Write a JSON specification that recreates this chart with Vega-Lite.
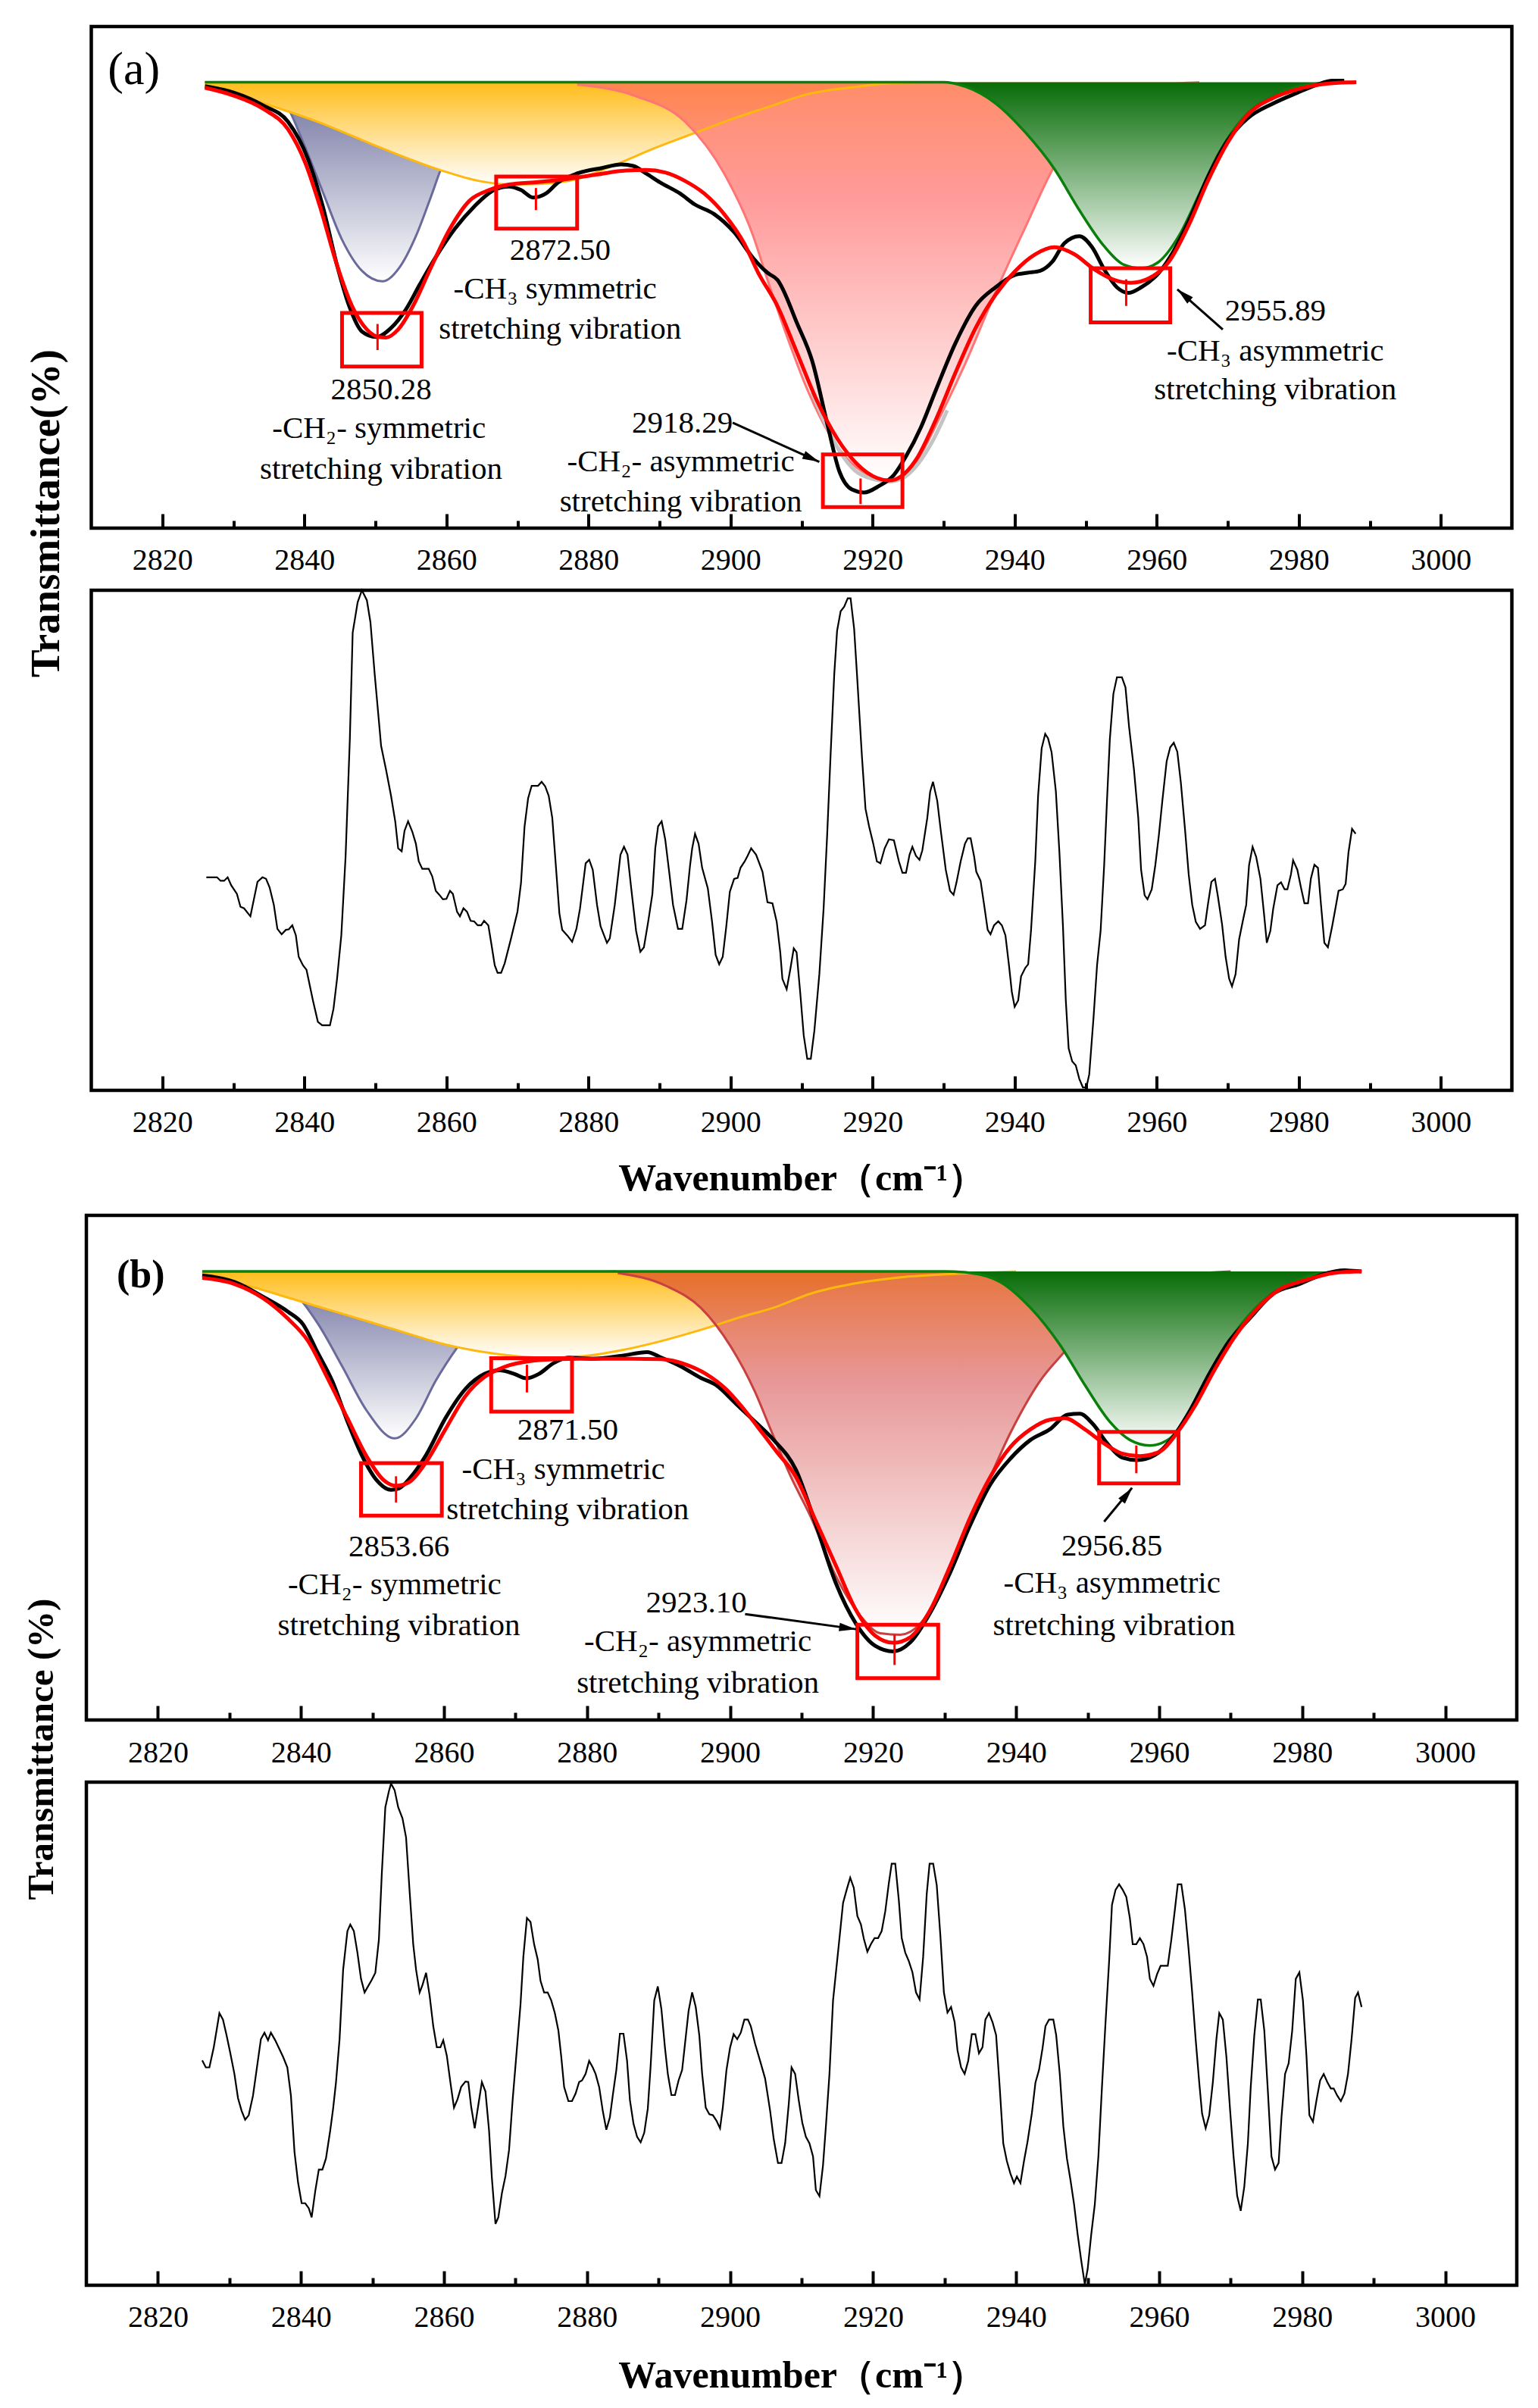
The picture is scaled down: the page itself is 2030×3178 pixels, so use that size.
{
  "$schema": "https://vega.github.io/schema/vega-lite/v6.json",
  "description": "Curve-fitted FTIR C-H stretching region (a) and (b) with second derivative spectra",
  "background": "white",
  "padding": {"left": 27, "top": 32, "right": 5, "bottom": 5},
  "datasets": {
    "fa": [
      {"s":"blk","x":2826.0,"y":88.1},{"s":"blk","x":2830.1,"y":86.8},{"s":"blk","x":2834.3,"y":84.2},{"s":"blk","x":2837.7,"y":81.0},{"s":"blk","x":2840.5,"y":73.6},{"s":"blk","x":2842.6,"y":64.1},{"s":"blk","x":2844.6,"y":52.4},{"s":"blk","x":2846.3,"y":44.3},{"s":"blk","x":2848.1,"y":39.2},{"s":"blk","x":2850.1,"y":38.1},{"s":"blk","x":2852.2,"y":39.9},{"s":"blk","x":2854.3,"y":43.6},{"s":"blk","x":2856.3,"y":48.7},{"s":"blk","x":2858.4,"y":53.8},{"s":"blk","x":2861.2,"y":59.7},{"s":"blk","x":2863.9,"y":64.1},{"s":"blk","x":2866.7,"y":67.4},{"s":"blk","x":2868.8,"y":68.1},{"s":"blk","x":2870.5,"y":67.4},{"s":"blk","x":2872.2,"y":65.9},{"s":"blk","x":2874.0,"y":66.7},{"s":"blk","x":2875.7,"y":68.9},{"s":"blk","x":2878.4,"y":70.7},{"s":"blk","x":2881.9,"y":71.8},{"s":"blk","x":2884.6,"y":72.5},{"s":"blk","x":2886.3,"y":72.2},{"s":"blk","x":2888.1,"y":70.7},{"s":"blk","x":2890.1,"y":68.9},{"s":"blk","x":2892.9,"y":66.7},{"s":"blk","x":2895.0,"y":64.5},{"s":"blk","x":2897.7,"y":62.6},{"s":"blk","x":2900.5,"y":59.0},{"s":"blk","x":2903.2,"y":53.8},{"s":"blk","x":2905.2,"y":50.9},{"s":"blk","x":2906.6,"y":49.5},{"s":"blk","x":2909.4,"y":40.7},{"s":"blk","x":2911.5,"y":33.3},{"s":"blk","x":2913.6,"y":20.9},{"s":"blk","x":2915.3,"y":11.4},{"s":"blk","x":2917.1,"y":7.7},{"s":"blk","x":2918.8,"y":7.1},{"s":"blk","x":2920.9,"y":8.4},{"s":"blk","x":2923.0,"y":10.6},{"s":"blk","x":2924.7,"y":14.3},{"s":"blk","x":2926.8,"y":20.1},{"s":"blk","x":2928.9,"y":27.5},{"s":"blk","x":2931.7,"y":37.0},{"s":"blk","x":2934.5,"y":44.3},{"s":"blk","x":2937.3,"y":48.0},{"s":"blk","x":2940.1,"y":50.5},{"s":"blk","x":2941.8,"y":50.9},{"s":"blk","x":2943.6,"y":51.3},{"s":"blk","x":2945.3,"y":53.1},{"s":"blk","x":2947.0,"y":56.8},{"s":"blk","x":2949.1,"y":58.2},{"s":"blk","x":2950.9,"y":56.0},{"s":"blk","x":2952.6,"y":51.6},{"s":"blk","x":2954.4,"y":48.0},{"s":"blk","x":2956.0,"y":46.9},{"s":"blk","x":2957.8,"y":48.0},{"s":"blk","x":2960.3,"y":50.9},{"s":"blk","x":2962.4,"y":55.3},{"s":"blk","x":2964.5,"y":61.2},{"s":"blk","x":2967.2,"y":70.0},{"s":"blk","x":2970.0,"y":77.3},{"s":"blk","x":2972.8,"y":81.7},{"s":"blk","x":2976.3,"y":84.6},{"s":"blk","x":2979.8,"y":86.8},{"s":"blk","x":2982.6,"y":88.4},{"s":"blk","x":2984.7,"y":89.2},{"s":"blk","x":2986.4,"y":89.2},
      {"s":"red","x":2826.0,"y":87.8},{"s":"red","x":2830.1,"y":86.2},{"s":"red","x":2834.3,"y":83.5},{"s":"red","x":2837.7,"y":79.5},{"s":"red","x":2840.1,"y":72.9},{"s":"red","x":2842.2,"y":64.1},{"s":"red","x":2844.6,"y":52.4},{"s":"red","x":2846.7,"y":44.3},{"s":"red","x":2848.8,"y":39.6},{"s":"red","x":2850.5,"y":38.1},{"s":"red","x":2851.5,"y":38.0},{"s":"red","x":2853.2,"y":39.6},{"s":"red","x":2855.3,"y":44.3},{"s":"red","x":2857.7,"y":51.6},{"s":"red","x":2860.5,"y":59.7},{"s":"red","x":2863.2,"y":65.2},{"s":"red","x":2866.0,"y":67.4},{"s":"red","x":2868.8,"y":68.5},{"s":"red","x":2872.9,"y":69.0},{"s":"red","x":2877.0,"y":69.6},{"s":"red","x":2881.2,"y":70.5},{"s":"red","x":2885.3,"y":71.3},{"s":"red","x":2888.1,"y":71.4},{"s":"red","x":2890.8,"y":70.9},{"s":"red","x":2893.6,"y":69.2},{"s":"red","x":2896.3,"y":66.7},{"s":"red","x":2899.1,"y":62.6},{"s":"red","x":2901.9,"y":56.8},{"s":"red","x":2903.9,"y":50.9},{"s":"red","x":2906.6,"y":44.3},{"s":"red","x":2909.4,"y":34.8},{"s":"red","x":2912.2,"y":25.3},{"s":"red","x":2915.0,"y":17.9},{"s":"red","x":2917.8,"y":12.8},{"s":"red","x":2920.6,"y":10.0},{"s":"red","x":2922.3,"y":9.5},{"s":"red","x":2924.0,"y":10.3},{"s":"red","x":2926.1,"y":13.6},{"s":"red","x":2928.9,"y":21.6},{"s":"red","x":2931.7,"y":31.1},{"s":"red","x":2934.5,"y":39.9},{"s":"red","x":2937.3,"y":46.5},{"s":"red","x":2940.1,"y":51.3},{"s":"red","x":2942.9,"y":54.6},{"s":"red","x":2945.6,"y":56.0},{"s":"red","x":2948.4,"y":54.6},{"s":"red","x":2951.2,"y":51.6},{"s":"red","x":2954.0,"y":49.5},{"s":"red","x":2956.4,"y":48.9},{"s":"red","x":2958.9,"y":49.8},{"s":"red","x":2961.7,"y":53.1},{"s":"red","x":2964.5,"y":60.4},{"s":"red","x":2967.2,"y":69.2},{"s":"red","x":2970.0,"y":76.9},{"s":"red","x":2972.8,"y":82.4},{"s":"red","x":2976.3,"y":85.7},{"s":"red","x":2979.8,"y":87.5},{"s":"red","x":2983.9,"y":88.6},{"s":"red","x":2988.1,"y":88.9},
      {"s":"blue","x":2826.0,"y":88.9},{"s":"blue","x":2830.1,"y":88.7},{"s":"blue","x":2834.3,"y":87.6},{"s":"blue","x":2837.4,"y":84.5},{"s":"blue","x":2839.8,"y":77.0},{"s":"blue","x":2842.6,"y":67.0},{"s":"blue","x":2845.3,"y":57.5},{"s":"blue","x":2848.1,"y":51.3},{"s":"blue","x":2851.0,"y":49.2},{"s":"blue","x":2853.6,"y":52.4},{"s":"blue","x":2855.7,"y":58.2},{"s":"blue","x":2857.7,"y":65.6},{"s":"blue","x":2859.4,"y":72.2},{"s":"blue","x":2861.2,"y":77.3},{"s":"blue","x":2863.2,"y":81.7},{"s":"blue","x":2866.0,"y":85.3},{"s":"blue","x":2869.4,"y":87.5},{"s":"blue","x":2872.9,"y":88.4},{"s":"blue","x":2878.0,"y":88.9},
      {"s":"yel","x":2826.0,"y":88.4},{"s":"yel","x":2832.9,"y":85.3},{"s":"yel","x":2841.9,"y":81.0},{"s":"yel","x":2850.8,"y":75.8},{"s":"yel","x":2859.1,"y":71.4},{"s":"yel","x":2864.6,"y":69.2},{"s":"yel","x":2869.4,"y":68.5},{"s":"yel","x":2872.9,"y":68.6},{"s":"yel","x":2878.4,"y":69.6},{"s":"yel","x":2883.9,"y":72.5},{"s":"yel","x":2889.4,"y":75.8},{"s":"yel","x":2895.0,"y":78.8},{"s":"yel","x":2900.5,"y":81.7},{"s":"yel","x":2905.2,"y":83.9},{"s":"yel","x":2910.8,"y":86.5},{"s":"yel","x":2917.8,"y":88.0},{"s":"yel","x":2922.6,"y":88.7},{"s":"yel","x":2928.0,"y":88.9},
      {"s":"sal","x":2878.4,"y":88.4},{"s":"sal","x":2886.7,"y":86.1},{"s":"sal","x":2893.6,"y":81.0},{"s":"sal","x":2899.1,"y":70.7},{"s":"sal","x":2903.2,"y":58.2},{"s":"sal","x":2905.2,"y":49.5},{"s":"sal","x":2908.0,"y":38.0},{"s":"sal","x":2911.0,"y":27.0},{"s":"sal","x":2914.0,"y":18.5},{"s":"sal","x":2917.0,"y":13.0},{"s":"sal","x":2920.0,"y":10.2},{"s":"sal","x":2922.3,"y":9.5},{"s":"sal","x":2924.5,"y":10.3},{"s":"sal","x":2926.5,"y":14.0},{"s":"sal","x":2929.6,"y":22.5},{"s":"sal","x":2933.1,"y":33.0},{"s":"sal","x":2937.3,"y":47.0},{"s":"sal","x":2941.5,"y":60.0},{"s":"sal","x":2945.6,"y":72.2},{"s":"sal","x":2950.0,"y":81.0},{"s":"sal","x":2955.0,"y":86.0},{"s":"sal","x":2960.0,"y":88.2},{"s":"sal","x":2966.0,"y":88.9},
      {"s":"grn","x":2826.0,"y":88.9},{"s":"grn","x":2930.0,"y":88.9},{"s":"grn","x":2933.1,"y":88.0},{"s":"grn","x":2937.3,"y":84.7},{"s":"grn","x":2941.5,"y":78.9},{"s":"grn","x":2945.6,"y":71.6},{"s":"grn","x":2949.1,"y":63.4},{"s":"grn","x":2952.6,"y":56.2},{"s":"grn","x":2955.4,"y":52.5},{"s":"grn","x":2957.8,"y":51.8},{"s":"grn","x":2960.3,"y":53.1},{"s":"grn","x":2963.1,"y":58.2},{"s":"grn","x":2965.9,"y":66.3},{"s":"grn","x":2968.6,"y":74.4},{"s":"grn","x":2972.1,"y":81.7},{"s":"grn","x":2976.3,"y":86.1},{"s":"grn","x":2980.5,"y":88.2},{"s":"grn","x":2986.1,"y":88.9},{"s":"grn","x":2988.1,"y":88.9},
      {"s":"gray","x":2911.5,"y":27.0},{"s":"gray","x":2913.6,"y":20.0},{"s":"gray","x":2915.5,"y":15.0},{"s":"gray","x":2917.5,"y":11.5},{"s":"gray","x":2920.0,"y":9.8},{"s":"gray","x":2922.3,"y":9.3},{"s":"gray","x":2924.5,"y":10.2},{"s":"gray","x":2926.5,"y":13.0},{"s":"gray","x":2928.5,"y":17.5},{"s":"gray","x":2930.5,"y":23.5}
    ],
    "fb": [
      {"s":"blk","x":2826.2,"y":88.1},{"s":"blk","x":2830.7,"y":86.8},{"s":"blk","x":2834.8,"y":83.8},{"s":"blk","x":2838.2,"y":80.9},{"s":"blk","x":2840.3,"y":78.4},{"s":"blk","x":2842.3,"y":72.9},{"s":"blk","x":2844.4,"y":67.1},{"s":"blk","x":2846.5,"y":59.2},{"s":"blk","x":2848.5,"y":52.5},{"s":"blk","x":2850.6,"y":47.5},{"s":"blk","x":2852.6,"y":45.6},{"s":"blk","x":2853.7,"y":45.9},{"s":"blk","x":2855.4,"y":48.2},{"s":"blk","x":2857.5,"y":52.5},{"s":"blk","x":2860.2,"y":59.8},{"s":"blk","x":2863.0,"y":65.6},{"s":"blk","x":2865.7,"y":68.6},{"s":"blk","x":2867.8,"y":69.3},{"s":"blk","x":2869.8,"y":68.6},{"s":"blk","x":2871.5,"y":67.7},{"s":"blk","x":2873.3,"y":68.6},{"s":"blk","x":2875.3,"y":70.7},{"s":"blk","x":2877.4,"y":71.8},{"s":"blk","x":2880.8,"y":71.6},{"s":"blk","x":2884.9,"y":72.2},{"s":"blk","x":2888.4,"y":72.9},{"s":"blk","x":2890.4,"y":71.8},{"s":"blk","x":2893.2,"y":70.0},{"s":"blk","x":2895.9,"y":67.8},{"s":"blk","x":2898.0,"y":66.4},{"s":"blk","x":2900.8,"y":62.7},{"s":"blk","x":2903.5,"y":59.1},{"s":"blk","x":2906.1,"y":55.5},{"s":"blk","x":2909.2,"y":49.6},{"s":"blk","x":2912.0,"y":38.7},{"s":"blk","x":2914.8,"y":27.1},{"s":"blk","x":2917.6,"y":19.1},{"s":"blk","x":2920.3,"y":14.7},{"s":"blk","x":2922.8,"y":13.6},{"s":"blk","x":2925.2,"y":15.4},{"s":"blk","x":2928.0,"y":21.3},{"s":"blk","x":2930.8,"y":29.3},{"s":"blk","x":2933.6,"y":38.7},{"s":"blk","x":2936.4,"y":46.7},{"s":"blk","x":2939.2,"y":51.8},{"s":"blk","x":2942.0,"y":55.5},{"s":"blk","x":2944.7,"y":57.6},{"s":"blk","x":2947.2,"y":60.5},{"s":"blk","x":2948.9,"y":60.7},{"s":"blk","x":2950.7,"y":58.7},{"s":"blk","x":2952.8,"y":54.7},{"s":"blk","x":2954.8,"y":52.0},{"s":"blk","x":2956.9,"y":51.5},{"s":"blk","x":2959.4,"y":52.5},{"s":"blk","x":2961.8,"y":55.8},{"s":"blk","x":2964.3,"y":61.3},{"s":"blk","x":2967.0,"y":68.6},{"s":"blk","x":2969.8,"y":75.1},{"s":"blk","x":2972.6,"y":79.5},{"s":"blk","x":2976.1,"y":84.6},{"s":"blk","x":2979.6,"y":86.4},{"s":"blk","x":2983.1,"y":88.4},{"s":"blk","x":2985.9,"y":89.1},{"s":"blk","x":2988.3,"y":88.9},
      {"s":"red","x":2826.2,"y":87.6},{"s":"red","x":2830.7,"y":86.4},{"s":"red","x":2834.8,"y":83.5},{"s":"red","x":2838.2,"y":79.5},{"s":"red","x":2841.0,"y":75.1},{"s":"red","x":2843.7,"y":67.8},{"s":"red","x":2846.5,"y":59.8},{"s":"red","x":2849.2,"y":52.2},{"s":"red","x":2851.6,"y":47.5},{"s":"red","x":2853.3,"y":46.4},{"s":"red","x":2855.1,"y":47.1},{"s":"red","x":2857.5,"y":51.1},{"s":"red","x":2860.2,"y":57.6},{"s":"red","x":2863.0,"y":64.2},{"s":"red","x":2865.7,"y":68.0},{"s":"red","x":2868.5,"y":70.0},{"s":"red","x":2871.9,"y":71.1},{"s":"red","x":2876.0,"y":71.5},{"s":"red","x":2880.8,"y":71.6},{"s":"red","x":2886.3,"y":71.6},{"s":"red","x":2890.4,"y":71.5},{"s":"red","x":2893.9,"y":70.4},{"s":"red","x":2896.6,"y":68.6},{"s":"red","x":2899.4,"y":65.6},{"s":"red","x":2902.1,"y":61.3},{"s":"red","x":2904.5,"y":56.9},{"s":"red","x":2906.6,"y":53.0},{"s":"red","x":2909.2,"y":48.2},{"s":"red","x":2912.0,"y":39.4},{"s":"red","x":2914.8,"y":30.6},{"s":"red","x":2917.6,"y":21.8},{"s":"red","x":2920.3,"y":16.7},{"s":"red","x":2922.8,"y":15.3},{"s":"red","x":2925.2,"y":16.4},{"s":"red","x":2928.0,"y":21.8},{"s":"red","x":2930.8,"y":30.6},{"s":"red","x":2933.6,"y":40.2},{"s":"red","x":2936.4,"y":48.2},{"s":"red","x":2939.2,"y":54.1},{"s":"red","x":2942.0,"y":57.6},{"s":"red","x":2944.7,"y":59.5},{"s":"red","x":2946.8,"y":59.8},{"s":"red","x":2949.6,"y":57.6},{"s":"red","x":2952.4,"y":54.7},{"s":"red","x":2954.8,"y":52.8},{"s":"red","x":2957.3,"y":52.3},{"s":"red","x":2960.1,"y":53.2},{"s":"red","x":2962.5,"y":56.9},{"s":"red","x":2964.9,"y":62.0},{"s":"red","x":2967.7,"y":69.3},{"s":"red","x":2970.5,"y":75.8},{"s":"red","x":2973.3,"y":80.9},{"s":"red","x":2976.8,"y":85.3},{"s":"red","x":2980.3,"y":87.1},{"s":"red","x":2984.5,"y":88.6},{"s":"red","x":2988.3,"y":88.9},
      {"s":"blue","x":2826.2,"y":88.6},{"s":"blue","x":2831.3,"y":87.8},{"s":"blue","x":2835.5,"y":86.5},{"s":"blue","x":2838.9,"y":84.7},{"s":"blue","x":2842.3,"y":78.7},{"s":"blue","x":2845.8,"y":70.0},{"s":"blue","x":2849.2,"y":61.3},{"s":"blue","x":2853.1,"y":55.8},{"s":"blue","x":2856.1,"y":59.8},{"s":"blue","x":2858.8,"y":67.1},{"s":"blue","x":2862.3,"y":74.7},{"s":"blue","x":2865.0,"y":79.5},{"s":"blue","x":2867.8,"y":83.1},{"s":"blue","x":2871.2,"y":86.0},{"s":"blue","x":2875.3,"y":87.8},{"s":"blue","x":2879.5,"y":88.6},{"s":"blue","x":2884.0,"y":88.9},
      {"s":"yel","x":2826.2,"y":88.2},{"s":"yel","x":2832.7,"y":86.0},{"s":"yel","x":2839.6,"y":83.1},{"s":"yel","x":2846.5,"y":80.2},{"s":"yel","x":2853.3,"y":77.3},{"s":"yel","x":2860.2,"y":74.4},{"s":"yel","x":2867.1,"y":72.6},{"s":"yel","x":2874.0,"y":71.8},{"s":"yel","x":2879.5,"y":72.1},{"s":"yel","x":2884.9,"y":73.3},{"s":"yel","x":2890.4,"y":75.1},{"s":"yel","x":2895.9,"y":77.3},{"s":"yel","x":2901.4,"y":79.8},{"s":"yel","x":2906.1,"y":81.7},{"s":"yel","x":2911.3,"y":84.5},{"s":"yel","x":2918.3,"y":86.7},{"s":"yel","x":2925.2,"y":87.9},{"s":"yel","x":2934.3,"y":88.6},{"s":"yel","x":2940.0,"y":88.9},
      {"s":"sal","x":2884.3,"y":88.6},{"s":"sal","x":2891.1,"y":86.0},{"s":"sal","x":2895.9,"y":81.7},{"s":"sal","x":2900.1,"y":74.0},{"s":"sal","x":2903.5,"y":65.0},{"s":"sal","x":2905.7,"y":57.5},{"s":"sal","x":2908.5,"y":48.2},{"s":"sal","x":2911.3,"y":40.2},{"s":"sal","x":2914.8,"y":28.5},{"s":"sal","x":2918.3,"y":20.5},{"s":"sal","x":2921.0,"y":17.2},{"s":"sal","x":2923.8,"y":16.9},{"s":"sal","x":2926.6,"y":19.1},{"s":"sal","x":2929.4,"y":25.6},{"s":"sal","x":2932.2,"y":35.1},{"s":"sal","x":2935.7,"y":46.0},{"s":"sal","x":2939.2,"y":56.9},{"s":"sal","x":2943.3,"y":67.1},{"s":"sal","x":2947.2,"y":73.7},{"s":"sal","x":2951.7,"y":81.7},{"s":"sal","x":2957.3,"y":86.0},{"s":"sal","x":2963.6,"y":88.2},{"s":"sal","x":2970.0,"y":88.9},
      {"s":"grn","x":2826.2,"y":88.9},{"s":"grn","x":2930.0,"y":88.9},{"s":"grn","x":2933.6,"y":88.6},{"s":"grn","x":2937.8,"y":86.8},{"s":"grn","x":2942.0,"y":81.7},{"s":"grn","x":2946.1,"y":74.4},{"s":"grn","x":2949.6,"y":66.4},{"s":"grn","x":2953.1,"y":59.1},{"s":"grn","x":2955.9,"y":55.5},{"s":"grn","x":2958.7,"y":54.4},{"s":"grn","x":2961.5,"y":55.8},{"s":"grn","x":2964.3,"y":61.3},{"s":"grn","x":2967.0,"y":68.6},{"s":"grn","x":2970.5,"y":76.6},{"s":"grn","x":2974.0,"y":82.4},{"s":"grn","x":2978.2,"y":86.4},{"s":"grn","x":2983.1,"y":88.6},{"s":"grn","x":2988.3,"y":88.9}
    ],
    "da": [
      {"x":2826.2,"y":42.6},{"x":2827.7,"y":42.6},{"x":2828.2,"y":41.9},{"x":2828.7,"y":41.9},{"x":2829.2,"y":42.6},{"x":2829.7,"y":41.0},{"x":2830.5,"y":39.3},{"x":2831.0,"y":36.7},{"x":2831.5,"y":36.4},{"x":2832.4,"y":34.8},{"x":2833.4,"y":41.7},{"x":2834.1,"y":42.6},{"x":2834.6,"y":42.3},{"x":2835.1,"y":40.6},{"x":2835.7,"y":37.1},{"x":2836.2,"y":32.3},{"x":2836.8,"y":31.2},{"x":2837.4,"y":32.1},{"x":2837.8,"y":32.2},{"x":2838.3,"y":33.0},{"x":2838.8,"y":31.0},{"x":2839.2,"y":26.7},{"x":2839.8,"y":25.0},{"x":2840.3,"y":24.1},{"x":2841.2,"y":18.0},{"x":2841.9,"y":13.7},{"x":2842.5,"y":13.0},{"x":2843.6,"y":13.0},{"x":2844.1,"y":16.3},{"x":2844.6,"y":22.3},{"x":2845.2,"y":31.0},{"x":2845.8,"y":46.7},{"x":2846.4,"y":70.2},{"x":2846.8,"y":91.5},{"x":2847.5,"y":97.6},{"x":2848.1,"y":100},{"x":2848.8,"y":98.0},{"x":2849.3,"y":93.6},{"x":2849.9,"y":83.2},{"x":2850.5,"y":73.7},{"x":2850.8,"y":68.9},{"x":2851.5,"y":64.1},{"x":2852.2,"y":58.9},{"x":2852.8,"y":53.7},{"x":2853.2,"y":48.4},{"x":2853.7,"y":47.8},{"x":2854.1,"y":51.9},{"x":2854.6,"y":53.8},{"x":2855.2,"y":51.7},{"x":2855.7,"y":49.3},{"x":2856.1,"y":45.8},{"x":2856.6,"y":44.3},{"x":2857.5,"y":44.3},{"x":2858.0,"y":42.8},{"x":2858.5,"y":39.9},{"x":2859.0,"y":39.1},{"x":2859.5,"y":38.2},{"x":2860.0,"y":38.3},{"x":2860.5,"y":39.9},{"x":2860.9,"y":39.3},{"x":2861.5,"y":35.7},{"x":2861.9,"y":34.8},{"x":2862.4,"y":36.4},{"x":2862.9,"y":35.7},{"x":2863.4,"y":33.9},{"x":2863.9,"y":33.8},{"x":2864.4,"y":33.0},{"x":2864.9,"y":33.0},{"x":2865.3,"y":33.9},{"x":2865.9,"y":33.0},{"x":2866.3,"y":29.5},{"x":2866.8,"y":25.0},{"x":2867.2,"y":23.5},{"x":2867.7,"y":23.5},{"x":2868.2,"y":25.4},{"x":2869.1,"y":30.4},{"x":2870.0,"y":35.7},{"x":2870.5,"y":41.5},{"x":2871.0,"y":52.8},{"x":2871.5,"y":58.4},{"x":2872.0,"y":60.9},{"x":2872.9,"y":60.9},{"x":2873.4,"y":61.7},{"x":2873.9,"y":60.8},{"x":2874.4,"y":58.9},{"x":2874.9,"y":54.5},{"x":2875.4,"y":45.0},{"x":2875.9,"y":35.4},{"x":2876.3,"y":32.1},{"x":2877.0,"y":31.0},{"x":2877.7,"y":29.7},{"x":2878.3,"y":32.3},{"x":2878.8,"y":36.3},{"x":2879.6,"y":45.4},{"x":2880.1,"y":46.1},{"x":2880.6,"y":44.1},{"x":2881.2,"y":37.1},{"x":2881.7,"y":32.8},{"x":2882.6,"y":29.5},{"x":2883.0,"y":30.4},{"x":2883.7,"y":37.1},{"x":2884.5,"y":47.1},{"x":2885.0,"y":48.7},{"x":2885.5,"y":47.1},{"x":2886.0,"y":40.6},{"x":2886.7,"y":31.9},{"x":2887.3,"y":27.7},{"x":2887.8,"y":28.6},{"x":2888.4,"y":33.7},{"x":2889.0,"y":39.3},{"x":2889.4,"y":48.4},{"x":2889.8,"y":52.8},{"x":2890.3,"y":53.8},{"x":2890.8,"y":50.2},{"x":2891.4,"y":43.2},{"x":2891.9,"y":37.1},{"x":2892.6,"y":32.3},{"x":2893.2,"y":32.3},{"x":2893.8,"y":38.0},{"x":2894.3,"y":45.0},{"x":2894.6,"y":48.4},{"x":2895.0,"y":51.3},{"x":2895.5,"y":49.3},{"x":2896.0,"y":44.5},{"x":2896.8,"y":40.4},{"x":2897.4,"y":33.7},{"x":2897.9,"y":27.1},{"x":2898.4,"y":25.2},{"x":2898.9,"y":26.7},{"x":2899.4,"y":32.8},{"x":2899.9,"y":39.7},{"x":2900.5,"y":42.3},{"x":2901.0,"y":42.5},{"x":2901.4,"y":44.5},{"x":2902.0,"y":45.8},{"x":2902.4,"y":46.9},{"x":2902.9,"y":48.4},{"x":2903.6,"y":47.1},{"x":2904.5,"y":43.7},{"x":2905.2,"y":37.6},{"x":2905.9,"y":37.4},{"x":2906.5,"y":33.7},{"x":2907.0,"y":27.6},{"x":2907.3,"y":22.3},{"x":2907.9,"y":20.2},{"x":2908.4,"y":24.1},{"x":2908.9,"y":28.4},{"x":2909.3,"y":27.6},{"x":2909.8,"y":19.7},{"x":2910.3,"y":11.0},{"x":2910.8,"y":6.3},{"x":2911.3,"y":6.3},{"x":2911.8,"y":11.9},{"x":2912.5,"y":23.2},{"x":2913.1,"y":36.3},{"x":2913.6,"y":51.0},{"x":2914.1,"y":67.6},{"x":2914.6,"y":83.2},{"x":2915.0,"y":91.9},{"x":2915.5,"y":95.8},{"x":2916.0,"y":96.7},{"x":2916.5,"y":98.4},{"x":2916.9,"y":98.4},{"x":2917.4,"y":92.3},{"x":2917.8,"y":83.2},{"x":2918.5,"y":66.7},{"x":2919.0,"y":56.3},{"x":2919.5,"y":52.8},{"x":2920.1,"y":49.3},{"x":2920.6,"y":45.8},{"x":2921.1,"y":45.4},{"x":2921.7,"y":48.4},{"x":2922.3,"y":50.2},{"x":2923.0,"y":50.0},{"x":2923.7,"y":45.8},{"x":2924.2,"y":43.5},{"x":2924.7,"y":43.5},{"x":2925.2,"y":47.1},{"x":2925.6,"y":48.7},{"x":2926.1,"y":46.9},{"x":2926.6,"y":46.1},{"x":2927.0,"y":48.0},{"x":2927.7,"y":54.5},{"x":2928.1,"y":59.7},{"x":2928.5,"y":61.7},{"x":2929.1,"y":57.9},{"x":2929.6,"y":51.9},{"x":2930.3,"y":44.1},{"x":2930.9,"y":39.9},{"x":2931.4,"y":39.1},{"x":2931.8,"y":41.5},{"x":2932.4,"y":45.8},{"x":2933.0,"y":49.3},{"x":2933.4,"y":50.4},{"x":2933.8,"y":50.4},{"x":2934.3,"y":46.7},{"x":2934.6,"y":43.7},{"x":2935.2,"y":41.9},{"x":2935.7,"y":37.1},{"x":2936.2,"y":32.1},{"x":2936.6,"y":31.2},{"x":2937.1,"y":33.0},{"x":2937.7,"y":33.8},{"x":2938.2,"y":33.0},{"x":2938.7,"y":31.0},{"x":2939.2,"y":25.0},{"x":2939.6,"y":19.7},{"x":2940.0,"y":16.7},{"x":2940.5,"y":18.0},{"x":2940.9,"y":22.8},{"x":2941.5,"y":24.5},{"x":2941.9,"y":25.2},{"x":2942.3,"y":31.9},{"x":2942.9,"y":45.8},{"x":2943.3,"y":58.9},{"x":2943.8,"y":68.4},{"x":2944.3,"y":71.3},{"x":2944.7,"y":70.4},{"x":2945.2,"y":67.6},{"x":2945.8,"y":59.8},{"x":2946.3,"y":47.6},{"x":2946.8,"y":32.8},{"x":2947.2,"y":18.0},{"x":2947.6,"y":8.4},{"x":2948.1,"y":5.8},{"x":2948.6,"y":5.0},{"x":2949.1,"y":2.3},{"x":2949.6,"y":0.6},{"x":2950.1,"y":0.6},{"x":2950.5,"y":3.2},{"x":2951.1,"y":14.5},{"x":2951.6,"y":25.0},{"x":2952.1,"y":31.9},{"x":2952.6,"y":45.0},{"x":2953.0,"y":58.0},{"x":2953.4,"y":70.2},{"x":2953.9,"y":79.3},{"x":2954.4,"y":82.6},{"x":2955.1,"y":82.6},{"x":2955.6,"y":80.6},{"x":2956.1,"y":72.8},{"x":2956.8,"y":64.1},{"x":2957.4,"y":54.5},{"x":2957.8,"y":44.1},{"x":2958.3,"y":39.0},{"x":2958.7,"y":38.2},{"x":2959.3,"y":40.2},{"x":2959.8,"y":45.0},{"x":2960.3,"y":51.0},{"x":2960.8,"y":58.0},{"x":2961.4,"y":65.8},{"x":2961.9,"y":68.6},{"x":2962.4,"y":69.5},{"x":2962.9,"y":67.7},{"x":2963.4,"y":61.5},{"x":2964.0,"y":51.9},{"x":2964.5,"y":43.2},{"x":2965.0,"y":37.1},{"x":2965.5,"y":33.7},{"x":2966.1,"y":32.3},{"x":2966.8,"y":33.0},{"x":2967.2,"y":37.1},{"x":2967.7,"y":41.7},{"x":2968.2,"y":42.3},{"x":2968.6,"y":38.9},{"x":2969.2,"y":33.2},{"x":2969.7,"y":26.7},{"x":2970.2,"y":22.3},{"x":2970.6,"y":20.8},{"x":2971.1,"y":23.2},{"x":2971.6,"y":30.2},{"x":2972.1,"y":33.7},{"x":2972.6,"y":37.1},{"x":2973.0,"y":45.0},{"x":2973.5,"y":48.7},{"x":2974.0,"y":46.7},{"x":2974.6,"y":42.3},{"x":2975.1,"y":35.4},{"x":2975.5,"y":29.5},{"x":2976.0,"y":31.9},{"x":2976.4,"y":36.3},{"x":2977.0,"y":41.0},{"x":2977.5,"y":41.6},{"x":2978.0,"y":40.2},{"x":2978.4,"y":40.2},{"x":2978.9,"y":43.2},{"x":2979.2,"y":46.0},{"x":2979.8,"y":44.1},{"x":2980.3,"y":40.6},{"x":2980.8,"y":37.4},{"x":2981.3,"y":37.4},{"x":2981.7,"y":42.3},{"x":2982.2,"y":45.1},{"x":2982.7,"y":44.5},{"x":2983.1,"y":37.6},{"x":2983.6,"y":29.5},{"x":2984.1,"y":28.6},{"x":2984.7,"y":32.8},{"x":2985.2,"y":36.7},{"x":2985.6,"y":39.9},{"x":2986.2,"y":40.2},{"x":2986.6,"y":41.3},{"x":2987.0,"y":47.6},{"x":2987.5,"y":52.3},{"x":2988.0,"y":51.3}
    ],
    "db": [
      {"x":2826.2,"y":44.7},{"x":2826.7,"y":43.3},{"x":2827.2,"y":43.3},{"x":2827.8,"y":47.2},{"x":2828.2,"y":50.6},{"x":2828.6,"y":54.1},{"x":2829.1,"y":52.8},{"x":2829.6,"y":49.7},{"x":2830.1,"y":46.3},{"x":2830.7,"y":42.0},{"x":2831.2,"y":37.2},{"x":2831.7,"y":34.7},{"x":2832.2,"y":32.9},{"x":2832.7,"y":33.8},{"x":2833.3,"y":37.7},{"x":2833.8,"y":42.8},{"x":2834.4,"y":48.9},{"x":2834.9,"y":50.2},{"x":2835.4,"y":48.7},{"x":2835.8,"y":50.2},{"x":2836.4,"y":48.7},{"x":2836.9,"y":47.2},{"x":2837.5,"y":45.4},{"x":2838.1,"y":43.3},{"x":2838.6,"y":37.7},{"x":2839.1,"y":26.5},{"x":2839.6,"y":20.4},{"x":2840.1,"y":16.3},{"x":2840.6,"y":16.3},{"x":2841.1,"y":15.3},{"x":2841.5,"y":13.5},{"x":2842.0,"y":18.7},{"x":2842.5,"y":23.0},{"x":2843.0,"y":23.0},{"x":2843.5,"y":25.2},{"x":2844.1,"y":30.8},{"x":2844.5,"y":35.1},{"x":2844.9,"y":40.3},{"x":2845.4,"y":48.9},{"x":2845.9,"y":62.7},{"x":2846.5,"y":70.4},{"x":2846.9,"y":71.7},{"x":2847.4,"y":70.4},{"x":2847.9,"y":66.1},{"x":2848.4,"y":60.9},{"x":2848.9,"y":58.2},{"x":2849.3,"y":59.2},{"x":2849.9,"y":60.7},{"x":2850.4,"y":62.1},{"x":2850.9,"y":68.7},{"x":2851.3,"y":81.6},{"x":2851.8,"y":95.0},{"x":2852.3,"y":98.2},{"x":2852.6,"y":99.7},{"x":2853.1,"y":98.4},{"x":2853.6,"y":95.0},{"x":2854.2,"y":92.8},{"x":2854.7,"y":89.0},{"x":2855.2,"y":78.2},{"x":2855.7,"y":67.8},{"x":2856.1,"y":62.7},{"x":2856.6,"y":58.2},{"x":2857.0,"y":59.7},{"x":2857.5,"y":62.1},{"x":2858.0,"y":57.5},{"x":2858.5,"y":51.5},{"x":2859.0,"y":47.3},{"x":2859.5,"y":47.3},{"x":2859.9,"y":48.7},{"x":2860.4,"y":45.6},{"x":2860.9,"y":40.3},{"x":2861.4,"y":35.3},{"x":2861.9,"y":37.0},{"x":2862.4,"y":39.4},{"x":2863.0,"y":40.5},{"x":2863.4,"y":40.4},{"x":2863.8,"y":35.5},{"x":2864.3,"y":31.2},{"x":2864.8,"y":35.8},{"x":2865.3,"y":40.4},{"x":2865.8,"y":38.5},{"x":2866.3,"y":30.8},{"x":2866.7,"y":21.3},{"x":2867.2,"y":12.2},{"x":2867.6,"y":13.5},{"x":2868.1,"y":18.3},{"x":2868.6,"y":21.7},{"x":2869.1,"y":26.9},{"x":2869.6,"y":36.8},{"x":2870.1,"y":45.4},{"x":2870.7,"y":55.8},{"x":2871.1,"y":65.3},{"x":2871.6,"y":73.0},{"x":2872.1,"y":72.2},{"x":2872.6,"y":67.8},{"x":2873.1,"y":64.8},{"x":2873.5,"y":60.5},{"x":2874.0,"y":58.2},{"x":2874.5,"y":58.2},{"x":2875.0,"y":56.6},{"x":2875.5,"y":54.1},{"x":2876.0,"y":50.6},{"x":2876.4,"y":45.4},{"x":2876.8,"y":39.4},{"x":2877.4,"y":36.6},{"x":2877.9,"y":36.6},{"x":2878.4,"y":38.1},{"x":2878.9,"y":40.4},{"x":2879.3,"y":40.7},{"x":2879.8,"y":42.0},{"x":2880.3,"y":44.6},{"x":2880.8,"y":43.3},{"x":2881.2,"y":42.0},{"x":2881.7,"y":39.4},{"x":2882.2,"y":34.7},{"x":2882.7,"y":30.9},{"x":2883.2,"y":33.4},{"x":2883.6,"y":37.7},{"x":2884.1,"y":42.8},{"x":2884.6,"y":50.0},{"x":2885.1,"y":50.0},{"x":2885.6,"y":44.6},{"x":2886.0,"y":36.8},{"x":2886.5,"y":32.1},{"x":2887.0,"y":29.5},{"x":2887.5,"y":28.4},{"x":2888.0,"y":30.3},{"x":2888.5,"y":35.1},{"x":2888.9,"y":43.7},{"x":2889.4,"y":56.6},{"x":2889.9,"y":59.4},{"x":2890.4,"y":54.9},{"x":2890.9,"y":47.2},{"x":2891.3,"y":42.0},{"x":2891.8,"y":37.8},{"x":2892.3,"y":37.8},{"x":2892.8,"y":40.7},{"x":2893.3,"y":42.8},{"x":2893.7,"y":48.0},{"x":2894.2,"y":54.5},{"x":2894.7,"y":58.2},{"x":2895.2,"y":55.3},{"x":2895.7,"y":49.7},{"x":2896.1,"y":42.0},{"x":2896.6,"y":35.3},{"x":2897.1,"y":34.0},{"x":2897.6,"y":33.8},{"x":2898.1,"y":32.7},{"x":2898.6,"y":31.2},{"x":2899.0,"y":35.5},{"x":2899.5,"y":42.8},{"x":2900.0,"y":47.2},{"x":2900.5,"y":49.9},{"x":2901.0,"y":48.9},{"x":2901.5,"y":50.2},{"x":2902.0,"y":52.8},{"x":2902.5,"y":52.8},{"x":2902.9,"y":51.5},{"x":2903.5,"y":48.0},{"x":2904.2,"y":44.6},{"x":2904.9,"y":41.1},{"x":2905.6,"y":34.7},{"x":2906.1,"y":29.1},{"x":2906.7,"y":24.3},{"x":2907.2,"y":24.3},{"x":2907.7,"y":28.2},{"x":2908.2,"y":35.9},{"x":2908.6,"y":43.3},{"x":2909.1,"y":42.0},{"x":2909.6,"y":36.8},{"x":2910.1,"y":32.3},{"x":2910.6,"y":29.5},{"x":2911.1,"y":28.2},{"x":2911.6,"y":25.6},{"x":2912.0,"y":18.9},{"x":2912.5,"y":17.7},{"x":2913.0,"y":23.9},{"x":2913.4,"y":31.6},{"x":2913.9,"y":42.0},{"x":2914.4,"y":56.6},{"x":2914.9,"y":63.5},{"x":2915.4,"y":70.4},{"x":2915.8,"y":76.0},{"x":2916.3,"y":78.6},{"x":2916.8,"y":81.0},{"x":2917.3,"y":79.0},{"x":2917.8,"y":73.4},{"x":2918.3,"y":71.7},{"x":2918.7,"y":68.9},{"x":2919.2,"y":66.3},{"x":2919.7,"y":67.8},{"x":2920.2,"y":69.0},{"x":2920.7,"y":69.0},{"x":2921.2,"y":70.4},{"x":2921.7,"y":74.3},{"x":2922.2,"y":79.9},{"x":2922.6,"y":83.8},{"x":2923.1,"y":83.8},{"x":2923.6,"y":76.5},{"x":2924.0,"y":69.0},{"x":2924.5,"y":66.1},{"x":2925.0,"y":64.4},{"x":2925.5,"y":62.2},{"x":2926.0,"y":58.2},{"x":2926.5,"y":56.8},{"x":2927.0,"y":65.3},{"x":2927.5,"y":77.8},{"x":2927.9,"y":83.8},{"x":2928.4,"y":83.8},{"x":2928.9,"y":79.5},{"x":2929.4,"y":69.6},{"x":2929.9,"y":58.2},{"x":2930.4,"y":54.2},{"x":2930.9,"y":55.3},{"x":2931.4,"y":52.3},{"x":2931.8,"y":46.7},{"x":2932.3,"y":43.3},{"x":2932.8,"y":42.0},{"x":2933.3,"y":44.6},{"x":2933.8,"y":49.9},{"x":2934.3,"y":49.9},{"x":2934.8,"y":46.1},{"x":2935.3,"y":47.3},{"x":2935.7,"y":52.8},{"x":2936.2,"y":54.1},{"x":2936.7,"y":52.3},{"x":2937.2,"y":49.7},{"x":2937.7,"y":39.4},{"x":2938.2,"y":28.2},{"x":2938.7,"y":24.7},{"x":2939.2,"y":22.2},{"x":2939.7,"y":20.3},{"x":2940.1,"y":21.6},{"x":2940.6,"y":20.3},{"x":2941.1,"y":24.7},{"x":2941.6,"y":28.6},{"x":2942.2,"y":34.2},{"x":2942.7,"y":40.3},{"x":2943.2,"y":42.8},{"x":2943.7,"y":47.2},{"x":2944.1,"y":51.5},{"x":2944.6,"y":52.8},{"x":2945.2,"y":52.8},{"x":2945.6,"y":49.7},{"x":2946.1,"y":42.0},{"x":2946.6,"y":31.6},{"x":2947.1,"y":25.2},{"x":2947.6,"y":20.9},{"x":2948.1,"y":16.1},{"x":2948.6,"y":10.1},{"x":2949.1,"y":4.9},{"x":2949.6,"y":0.2},{"x":2950.0,"y":3.2},{"x":2950.5,"y":10.1},{"x":2951.0,"y":16.1},{"x":2951.5,"y":25.6},{"x":2952.0,"y":39.4},{"x":2952.5,"y":52.3},{"x":2953.0,"y":64.4},{"x":2953.4,"y":75.6},{"x":2953.9,"y":78.6},{"x":2954.4,"y":79.7},{"x":2954.9,"y":78.6},{"x":2955.4,"y":77.2},{"x":2955.9,"y":73.0},{"x":2956.3,"y":67.8},{"x":2956.8,"y":67.8},{"x":2957.3,"y":69.0},{"x":2957.8,"y":67.8},{"x":2958.3,"y":65.3},{"x":2958.7,"y":60.9},{"x":2959.2,"y":59.5},{"x":2959.7,"y":61.8},{"x":2960.2,"y":63.5},{"x":2960.7,"y":63.5},{"x":2961.2,"y":63.5},{"x":2961.7,"y":68.7},{"x":2962.2,"y":74.7},{"x":2962.6,"y":79.7},{"x":2963.1,"y":79.7},{"x":2963.6,"y":74.7},{"x":2964.1,"y":67.0},{"x":2964.6,"y":58.4},{"x":2965.1,"y":48.9},{"x":2965.6,"y":40.3},{"x":2966.0,"y":34.1},{"x":2966.5,"y":31.2},{"x":2967.0,"y":33.8},{"x":2967.5,"y":40.3},{"x":2968.0,"y":48.9},{"x":2968.4,"y":54.1},{"x":2968.9,"y":52.8},{"x":2969.4,"y":45.4},{"x":2969.9,"y":35.1},{"x":2970.4,"y":25.6},{"x":2970.9,"y":17.8},{"x":2971.4,"y":14.8},{"x":2971.9,"y":19.6},{"x":2972.4,"y":28.2},{"x":2972.8,"y":39.4},{"x":2973.3,"y":49.7},{"x":2973.8,"y":56.8},{"x":2974.2,"y":56.8},{"x":2974.7,"y":50.6},{"x":2975.2,"y":38.5},{"x":2975.7,"y":25.6},{"x":2976.2,"y":23.0},{"x":2976.7,"y":24.3},{"x":2977.1,"y":33.4},{"x":2977.6,"y":42.0},{"x":2978.1,"y":44.1},{"x":2978.6,"y":50.6},{"x":2979.1,"y":60.9},{"x":2979.6,"y":62.2},{"x":2980.1,"y":56.6},{"x":2980.6,"y":45.4},{"x":2981.0,"y":33.8},{"x":2981.5,"y":32.5},{"x":2982.0,"y":36.8},{"x":2982.5,"y":40.7},{"x":2983.0,"y":42.0},{"x":2983.5,"y":40.4},{"x":2984.0,"y":39.1},{"x":2984.4,"y":39.1},{"x":2984.9,"y":37.7},{"x":2985.4,"y":36.6},{"x":2985.9,"y":38.1},{"x":2986.4,"y":42.0},{"x":2986.9,"y":48.9},{"x":2987.4,"y":57.1},{"x":2987.8,"y":58.2},{"x":2988.3,"y":55.3}
    ],
    "anA": [
      {"k":"box","x":2845.3,"x2":2856.5,"y":32.2,"y2":42.9},
      {"k":"box","x":2867.0,"x2":2878.4,"y":59.7,"y2":70.1},
      {"k":"box","x":2913.0,"x2":2924.2,"y":4.2,"y2":14.7},
      {"k":"box","x":2950.7,"x2":2961.9,"y":41.0,"y2":51.8},
      {"k":"tick","x":2850.3,"y":35.5,"y2":40.7},
      {"k":"tick","x":2872.6,"y":63.4,"y2":67.8},
      {"k":"tick","x":2918.3,"y":4.8,"y2":9.9},
      {"k":"tick","x":2955.7,"y":44.3,"y2":49.6},
      {"k":"arrow","x":2900.3,"y":21.0,"x2":2912.5,"y2":13.2},
      {"k":"arrow","x":2969.3,"y":39.6,"x2":2962.9,"y2":47.6},
      {"k":"head1","x":2911.4,"y":13.9},
      {"k":"head2","x":2963.8,"y":46.5},
      {"k":"txt","x":2850.8,"y":27.5,"t":"2850.28"},
      {"k":"txt","x":2850.5,"y":19.8,"t":"-CH₂- symmetric"},
      {"k":"txt","x":2850.8,"y":11.7,"t":"stretching vibration"},
      {"k":"txt","x":2876.0,"y":55.3,"t":"2872.50"},
      {"k":"txt","x":2875.3,"y":47.6,"t":"-CH₃ symmetric"},
      {"k":"txt","x":2876.0,"y":39.6,"t":"stretching vibration"},
      {"k":"txt","x":2893.2,"y":20.9,"t":"2918.29"},
      {"k":"txt","x":2893.0,"y":13.2,"t":"-CH₂- asymmetric"},
      {"k":"txt","x":2893.0,"y":5.1,"t":"stretching vibration"},
      {"k":"txt","x":2976.7,"y":43.2,"t":"2955.89"},
      {"k":"txt","x":2976.7,"y":35.2,"t":"-CH₃ asymmetric"},
      {"k":"txt","x":2976.7,"y":27.5,"t":"stretching vibration"},
      {"k":"panel","x":2816.0,"y":91.4,"t":"(a)"}
    ],
    "anB": [
      {"k":"box","x":2848.4,"x2":2859.7,"y":40.5,"y2":50.9},
      {"k":"box","x":2866.6,"x2":2877.9,"y":61.1,"y2":71.7},
      {"k":"box","x":2917.8,"x2":2929.1,"y":8.3,"y2":18.9},
      {"k":"box","x":2951.6,"x2":2962.7,"y":46.9,"y2":57.1},
      {"k":"tick","x":2853.3,"y":43.1,"y2":48.3},
      {"k":"tick","x":2871.6,"y":64.9,"y2":70.4},
      {"k":"tick","x":2923.0,"y":10.9,"y2":16.9},
      {"k":"tick","x":2956.8,"y":48.9,"y2":54.4},
      {"k":"arrow","x":2902.1,"y":21.0,"x2":2917.6,"y2":18.0},
      {"k":"arrow","x":2952.3,"y":39.3,"x2":2956.2,"y2":46.0},
      {"k":"head1","x":2916.45,"y":18.2},
      {"k":"head2","x":2955.5,"y":44.7},
      {"k":"txt","x":2853.7,"y":34.2,"t":"2853.66"},
      {"k":"txt","x":2853.1,"y":26.7,"t":"-CH₂- symmetric"},
      {"k":"txt","x":2853.7,"y":18.6,"t":"stretching vibration"},
      {"k":"txt","x":2877.3,"y":57.3,"t":"2871.50"},
      {"k":"txt","x":2876.7,"y":49.6,"t":"-CH₃ symmetric"},
      {"k":"txt","x":2877.3,"y":41.6,"t":"stretching vibration"},
      {"k":"txt","x":2895.3,"y":23.1,"t":"2923.10"},
      {"k":"txt","x":2895.5,"y":15.4,"t":"-CH₂- asymmetric"},
      {"k":"txt","x":2895.5,"y":7.2,"t":"stretching vibration"},
      {"k":"txt","x":2953.4,"y":34.4,"t":"2956.85"},
      {"k":"txt","x":2953.4,"y":27.1,"t":"-CH₃ asymmetric"},
      {"k":"txt","x":2953.7,"y":18.6,"t":"stretching vibration"},
      {"k":"panel","x":2817.6,"y":88.1,"t":"(b)"}
    ]
  },
  "vconcat": [
    {
      "width": 1875,
      "height": 662,
      "encoding": {
        "x": {"field": "x", "type": "quantitative", "scale": {"domain": [2810, 3010], "nice": false, "zero": false},
          "axis": {"values": [2820,2830,2840,2850,2860,2870,2880,2890,2900,2910,2920,2930,2940,2950,2960,2970,2980,2990,3000], "format": "d", "labelExpr": "datum.value % 20 === 0 ? datum.label : ''", "domain": false, "grid": false, "ticks": true, "tickColor": "black", "tickWidth": 4, "tickSize": {"condition": {"test": "datum.value % 20 === 0", "value": -19}, "value": -10}, "labelFont": "Liberation Serif", "labelFontSize": 40, "labelColor": "black", "labelPadding": 61, "labelBaseline": "middle", "labelFlush": false, "labelOverlap": false, "title": null, "zindex": 1}},
        "y": {"field": "y", "type": "quantitative", "scale": {"domain": [0, 100], "nice": false, "zero": false},
          "axis": {"title": "Transmittance(%)", "labels": false, "ticks": false, "domain": false, "grid": false, "titleFont": "Liberation Serif", "titleFontSize": 55, "titleFontWeight": "bold", "titleColor": "black", "titleX": -60, "titleY": 642, "titleAngle": -90, "titleAlign": "center", "titleBaseline": "middle"}}
      },
      "layer": [
        {"data": {"name": "fa"}, "transform": [{"filter": "datum.s === 'blue'"}], "mark": {"type": "area", "orient": "vertical", "interpolate": "monotone", "fill": {"gradient": "linear", "x1": 0, "y1": 0, "x2": 0, "y2": 1, "stops": [{"offset": 0, "color": "#6f719e"}, {"offset": 1, "color": "#ffffff"}]}}, "encoding": {"y2": {"datum": 88.9}}},
        {"data": {"name": "fa"}, "transform": [{"filter": "datum.s === 'blue'"}], "mark": {"type": "line", "interpolate": "monotone", "color": "#6a6a9c", "strokeWidth": 3}},
        {"data": {"name": "fa"}, "transform": [{"filter": "datum.s === 'yel'"}], "mark": {"type": "area", "orient": "vertical", "interpolate": "monotone", "fill": {"gradient": "linear", "x1": 0, "y1": 0, "x2": 0, "y2": 1, "stops": [{"offset": 0, "color": "#ffbd1a"}, {"offset": 1, "color": "#ffffff"}]}}, "encoding": {"y2": {"datum": 88.9}}},
        {"data": {"name": "fa"}, "transform": [{"filter": "datum.s === 'sal'"}], "mark": {"type": "area", "orient": "vertical", "interpolate": "monotone", "opacity": 0.88, "fill": {"gradient": "linear", "x1": 0, "y1": 0, "x2": 0, "y2": 1, "stops": [{"offset": 0, "color": "#ff7d55"}, {"offset": 0.3, "color": "#ff8e8e"}, {"offset": 1, "color": "#ffffff"}]}}, "encoding": {"y2": {"datum": 88.9}}},
        {"data": {"name": "fa"}, "transform": [{"filter": "datum.s === 'yel'"}], "mark": {"type": "line", "interpolate": "monotone", "color": "#ffb80e", "strokeWidth": 3}},
        {"data": {"name": "fa"}, "transform": [{"filter": "datum.s === 'sal'"}], "mark": {"type": "line", "interpolate": "monotone", "color": "#ff7474", "strokeWidth": 3}},
        {"data": {"name": "fa"}, "transform": [{"filter": "datum.s === 'grn'"}], "mark": {"type": "area", "orient": "vertical", "interpolate": "monotone", "fill": {"gradient": "linear", "x1": 0, "y1": 0, "x2": 0, "y2": 1, "stops": [{"offset": 0, "color": "#076c07"}, {"offset": 1, "color": "#ffffff"}]}}, "encoding": {"y2": {"datum": 88.9}}},
        {"data": {"name": "fa"}, "transform": [{"filter": "datum.s === 'grn'"}], "mark": {"type": "line", "interpolate": "monotone", "color": "#0b7f0b", "strokeWidth": 3.5}},
        {"data": {"name": "fa"}, "transform": [{"filter": "datum.s === 'gray'"}], "mark": {"type": "line", "interpolate": "monotone", "color": "#c4c4c4", "strokeWidth": 5}},
        {"data": {"name": "fa"}, "transform": [{"filter": "datum.s === 'blk'"}], "mark": {"type": "line", "interpolate": "monotone", "color": "black", "strokeWidth": 5}},
        {"data": {"name": "fa"}, "transform": [{"filter": "datum.s === 'red'"}], "mark": {"type": "line", "interpolate": "monotone", "color": "#ff0000", "strokeWidth": 5}},
        {"data": {"name": "anA"}, "transform": [{"filter": "datum.k === 'box'"}], "mark": {"type": "rect", "filled": false, "color": "#ff0000", "strokeWidth": 5}, "encoding": {"x2": {"field": "x2"}, "y2": {"field": "y2"}}},
        {"data": {"name": "anA"}, "transform": [{"filter": "datum.k === 'tick'"}], "mark": {"type": "rule", "color": "#ff0000", "strokeWidth": 3}, "encoding": {"y2": {"field": "y2"}}},
        {"data": {"name": "anA"}, "transform": [{"filter": "datum.k === 'arrow'"}], "mark": {"type": "rule", "color": "black", "strokeWidth": 3}, "encoding": {"x2": {"field": "x2"}, "y2": {"field": "y2"}}},
        {"data": {"name": "anA"}, "transform": [{"filter": "datum.k === 'head1'"}], "mark": {"type": "point", "shape": "M 1 0 L -1 -0.5 L -1 0.5 Z", "filled": true, "color": "black", "opacity": 1, "size": 500, "angle": 24}},
        {"data": {"name": "anA"}, "transform": [{"filter": "datum.k === 'head2'"}], "mark": {"type": "point", "shape": "M 1 0 L -1 -0.5 L -1 0.5 Z", "filled": true, "color": "black", "opacity": 1, "size": 500, "angle": 221}},
        {"data": {"name": "anA"}, "transform": [{"filter": "datum.k === 'txt'"}], "mark": {"type": "text", "font": "Liberation Serif", "fontSize": 41, "color": "black", "align": "center", "baseline": "middle"}, "encoding": {"text": {"field": "t"}}},
        {"data": {"name": "anA"}, "transform": [{"filter": "datum.k === 'panel'"}], "mark": {"type": "text", "font": "Liberation Serif", "fontSize": 62, "color": "black", "align": "center", "baseline": "middle"}, "encoding": {"text": {"field": "t"}}}
      ]
    },
    {
      "width": 1875,
      "height": 660,
      "data": {"name": "da"},
      "mark": {"type": "line", "color": "black", "strokeWidth": 2.2},
      "encoding": {
        "x": {"field": "x", "type": "quantitative", "scale": {"domain": [2810, 3010], "nice": false, "zero": false},
          "axis": {"values": [2820,2830,2840,2850,2860,2870,2880,2890,2900,2910,2920,2930,2940,2950,2960,2970,2980,2990,3000], "format": "d", "labelExpr": "datum.value % 20 === 0 ? datum.label : ''", "domain": false, "grid": false, "ticks": true, "tickColor": "black", "tickWidth": 4, "tickSize": {"condition": {"test": "datum.value % 20 === 0", "value": -19}, "value": -10}, "labelFont": "Liberation Serif", "labelFontSize": 40, "labelColor": "black", "labelPadding": 61, "labelBaseline": "middle", "labelFlush": false, "labelOverlap": false, "zindex": 1,
            "title": "Wavenumber（cm⁻¹）", "titleFont": "Liberation Serif", "titleFontSize": 50, "titleFontWeight": "bold", "titleColor": "black", "titleY": 116, "titleBaseline": "middle"}},
        "y": {"field": "y", "type": "quantitative", "scale": {"domain": [0, 100], "nice": false, "zero": false}, "axis": null}
      }
    },
    {
      "width": 1875,
      "height": 1,
      "data": {"values": [{"x": 2900}]},
      "mark": {"type": "point", "opacity": 0},
      "encoding": {"x": {"field": "x", "type": "quantitative", "axis": null}},
      "view": {"stroke": null}
    },
    {
      "width": 1888,
      "height": 666,
      "encoding": {
        "x": {"field": "x", "type": "quantitative", "scale": {"domain": [2810, 3010], "nice": false, "zero": false},
          "axis": {"values": [2820,2830,2840,2850,2860,2870,2880,2890,2900,2910,2920,2930,2940,2950,2960,2970,2980,2990,3000], "format": "d", "labelExpr": "datum.value % 20 === 0 ? datum.label : ''", "domain": false, "grid": false, "ticks": true, "tickColor": "black", "tickWidth": 4, "tickSize": {"condition": {"test": "datum.value % 20 === 0", "value": -19}, "value": -10}, "labelFont": "Liberation Serif", "labelFontSize": 40, "labelColor": "black", "labelPadding": 62, "labelBaseline": "middle", "labelFlush": false, "labelOverlap": false, "title": null, "zindex": 1}},
        "y": {"field": "y", "type": "quantitative", "scale": {"domain": [0, 100], "nice": false, "zero": false},
          "axis": {"title": "Transmittance (%)", "labels": false, "ticks": false, "domain": false, "grid": false, "titleFont": "Liberation Serif", "titleFontSize": 49, "titleFontWeight": "bold", "titleColor": "black", "titleX": -60, "titleY": 704, "titleAngle": -90, "titleAlign": "center", "titleBaseline": "middle"}}
      },
      "layer": [
        {"data": {"name": "fb"}, "transform": [{"filter": "datum.s === 'blue'"}], "mark": {"type": "area", "orient": "vertical", "interpolate": "monotone", "fill": {"gradient": "linear", "x1": 0, "y1": 0, "x2": 0, "y2": 1, "stops": [{"offset": 0, "color": "#6f719e"}, {"offset": 1, "color": "#ffffff"}]}}, "encoding": {"y2": {"datum": 88.9}}},
        {"data": {"name": "fb"}, "transform": [{"filter": "datum.s === 'blue'"}], "mark": {"type": "line", "interpolate": "monotone", "color": "#6a6a9c", "strokeWidth": 3}},
        {"data": {"name": "fb"}, "transform": [{"filter": "datum.s === 'yel'"}], "mark": {"type": "area", "orient": "vertical", "interpolate": "monotone", "fill": {"gradient": "linear", "x1": 0, "y1": 0, "x2": 0, "y2": 1, "stops": [{"offset": 0, "color": "#ffbd1a"}, {"offset": 1, "color": "#ffffff"}]}}, "encoding": {"y2": {"datum": 88.9}}},
        {"data": {"name": "fb"}, "transform": [{"filter": "datum.s === 'sal'"}], "mark": {"type": "area", "orient": "vertical", "interpolate": "monotone", "opacity": 0.9, "fill": {"gradient": "linear", "x1": 0, "y1": 0, "x2": 0, "y2": 1, "stops": [{"offset": 0, "color": "#e4662a"}, {"offset": 0.3, "color": "#e58b8b"}, {"offset": 1, "color": "#ffffff"}]}}, "encoding": {"y2": {"datum": 88.9}}},
        {"data": {"name": "fb"}, "transform": [{"filter": "datum.s === 'yel'"}], "mark": {"type": "line", "interpolate": "monotone", "color": "#ffb80e", "strokeWidth": 3}},
        {"data": {"name": "fb"}, "transform": [{"filter": "datum.s === 'sal'"}], "mark": {"type": "line", "interpolate": "monotone", "color": "#c94040", "strokeWidth": 3}},
        {"data": {"name": "fb"}, "transform": [{"filter": "datum.s === 'grn'"}], "mark": {"type": "area", "orient": "vertical", "interpolate": "monotone", "fill": {"gradient": "linear", "x1": 0, "y1": 0, "x2": 0, "y2": 1, "stops": [{"offset": 0, "color": "#076c07"}, {"offset": 1, "color": "#ffffff"}]}}, "encoding": {"y2": {"datum": 88.9}}},
        {"data": {"name": "fb"}, "transform": [{"filter": "datum.s === 'grn'"}], "mark": {"type": "line", "interpolate": "monotone", "color": "#0b7f0b", "strokeWidth": 3.5}},
        {"data": {"name": "fb"}, "transform": [{"filter": "datum.s === 'blk'"}], "mark": {"type": "line", "interpolate": "monotone", "color": "black", "strokeWidth": 5}},
        {"data": {"name": "fb"}, "transform": [{"filter": "datum.s === 'red'"}], "mark": {"type": "line", "interpolate": "monotone", "color": "#ff0000", "strokeWidth": 5}},
        {"data": {"name": "anB"}, "transform": [{"filter": "datum.k === 'box'"}], "mark": {"type": "rect", "filled": false, "color": "#ff0000", "strokeWidth": 5}, "encoding": {"x2": {"field": "x2"}, "y2": {"field": "y2"}}},
        {"data": {"name": "anB"}, "transform": [{"filter": "datum.k === 'tick'"}], "mark": {"type": "rule", "color": "#ff0000", "strokeWidth": 3}, "encoding": {"y2": {"field": "y2"}}},
        {"data": {"name": "anB"}, "transform": [{"filter": "datum.k === 'arrow'"}], "mark": {"type": "rule", "color": "black", "strokeWidth": 3}, "encoding": {"x2": {"field": "x2"}, "y2": {"field": "y2"}}},
        {"data": {"name": "anB"}, "transform": [{"filter": "datum.k === 'head1'"}], "mark": {"type": "point", "shape": "M 1 0 L -1 -0.5 L -1 0.5 Z", "filled": true, "color": "black", "opacity": 1, "size": 500, "angle": 8}},
        {"data": {"name": "anB"}, "transform": [{"filter": "datum.k === 'head2'"}], "mark": {"type": "point", "shape": "M 1 0 L -1 -0.5 L -1 0.5 Z", "filled": true, "color": "black", "opacity": 1, "size": 500, "angle": 309}},
        {"data": {"name": "anB"}, "transform": [{"filter": "datum.k === 'txt'"}], "mark": {"type": "text", "font": "Liberation Serif", "fontSize": 41, "color": "black", "align": "center", "baseline": "middle"}, "encoding": {"text": {"field": "t"}}},
        {"data": {"name": "anB"}, "transform": [{"filter": "datum.k === 'panel'"}], "mark": {"type": "text", "font": "Liberation Serif", "fontSize": 52, "fontWeight": "bold", "color": "black", "align": "center", "baseline": "middle"}, "encoding": {"text": {"field": "t"}}}
      ]
    },
    {
      "width": 1888,
      "height": 664,
      "data": {"name": "db"},
      "mark": {"type": "line", "color": "black", "strokeWidth": 2.2},
      "encoding": {
        "x": {"field": "x", "type": "quantitative", "scale": {"domain": [2810, 3010], "nice": false, "zero": false},
          "axis": {"values": [2820,2830,2840,2850,2860,2870,2880,2890,2900,2910,2920,2930,2940,2950,2960,2970,2980,2990,3000], "format": "d", "labelExpr": "datum.value % 20 === 0 ? datum.label : ''", "domain": false, "grid": false, "ticks": true, "tickColor": "black", "tickWidth": 4, "tickSize": {"condition": {"test": "datum.value % 20 === 0", "value": -19}, "value": -10}, "labelFont": "Liberation Serif", "labelFontSize": 40, "labelColor": "black", "labelPadding": 61, "labelBaseline": "middle", "labelFlush": false, "labelOverlap": false, "zindex": 1,
            "title": "Wavenumber（cm⁻¹）", "titleFont": "Liberation Serif", "titleFontSize": 50, "titleFontWeight": "bold", "titleColor": "black", "titleY": 119, "titleBaseline": "middle"}},
        "y": {"field": "y", "type": "quantitative", "scale": {"domain": [0, 100], "nice": false, "zero": false}, "axis": null}
      }
    }
  ],
  "spacing": 82,
  "bounds": "flush",
  "center": true,
  "resolve": {"scale": {"x": "independent", "y": "independent"}},
  "config": {
    "font": "Liberation Serif",
    "view": {"stroke": "black", "strokeWidth": 4.5}
  }
}
